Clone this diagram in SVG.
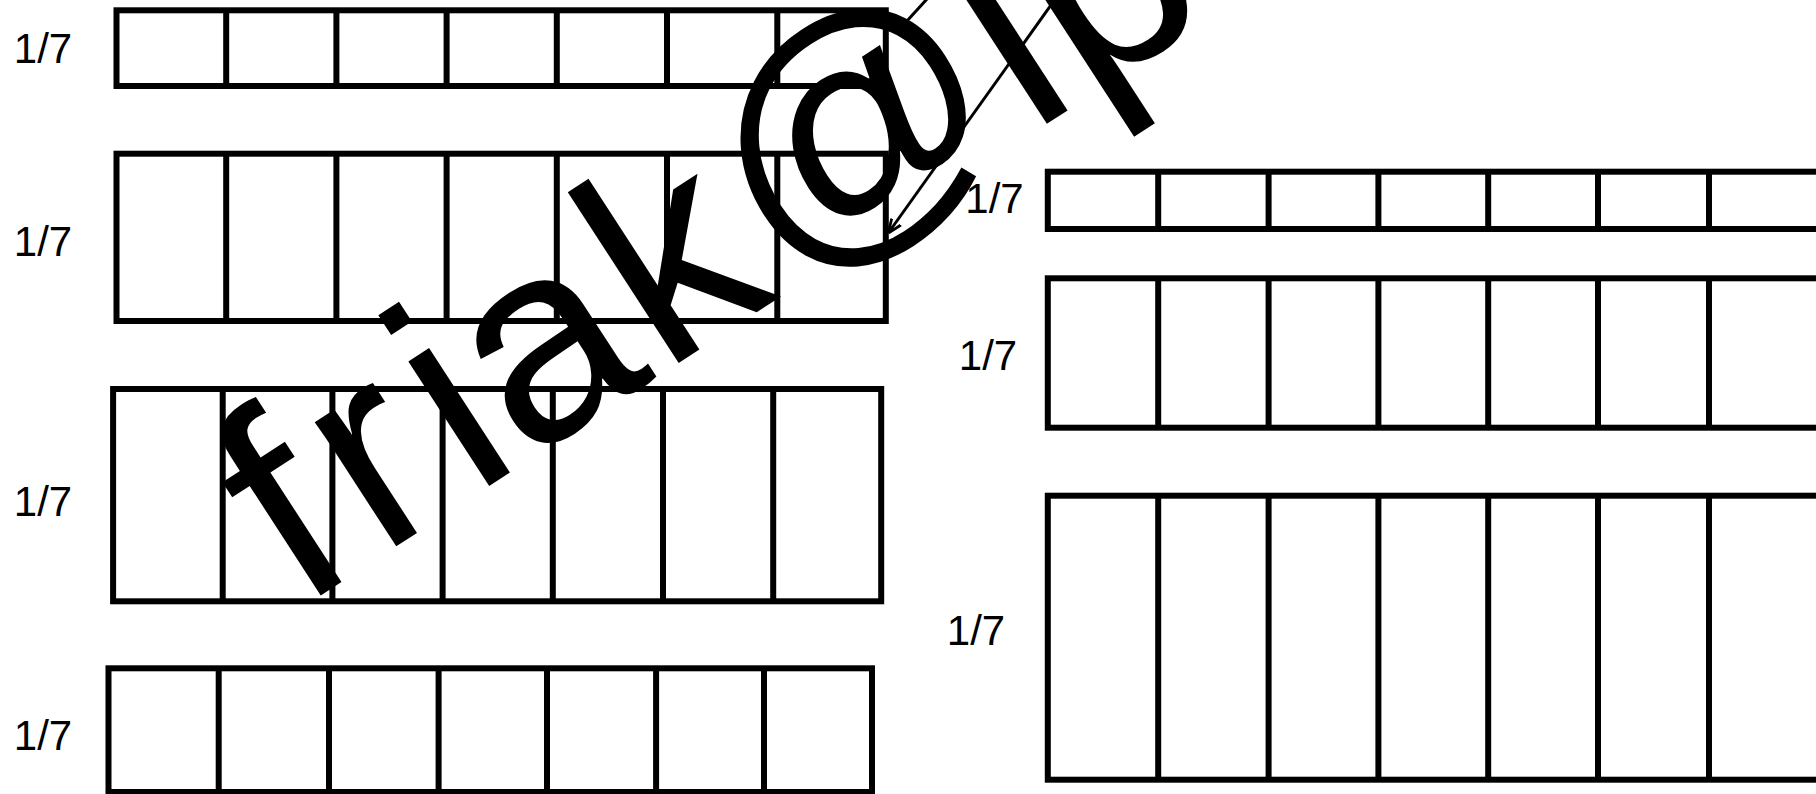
<svg xmlns="http://www.w3.org/2000/svg" width="1816" height="794" viewBox="0 0 1816 794">
<defs>
<style>
.box{fill:none;stroke:#000;stroke-width:6}
.div{fill:none;stroke:#000;stroke-width:6}
.lbl{font-family:'Liberation Sans',Arial,sans-serif;font-size:42px;text-anchor:middle;fill:#000}
.wm{font-family:'Liberation Sans',Arial,sans-serif;font-size:281px;fill:#000}
.thin{fill:none;stroke:#000;stroke-width:3}
</style>
<marker id="arr" viewBox="0 0 10 10" refX="9" refY="5" markerWidth="14" markerHeight="14" markerUnits="userSpaceOnUse" orient="auto">
<path d="M0,1 L10,5 L0,9" fill="none" stroke="#000" stroke-width="2"/>
</marker>
</defs>
<rect width="1816" height="794" fill="#fff"/>

<g id="row-left-1">
<rect class="box" x="116.5" y="10.3" width="769.3" height="75.7"/>
<path class="div" d="M226.2 10.3V86M336.4 10.3V86M446.6 10.3V86M556.8 10.3V86M667 10.3V86M777.3 10.3V86"/>
<text class="lbl" x="43" y="63">1/7</text>
</g>
<g id="row-left-2">
<rect class="box" x="116.5" y="153.7" width="769.3" height="167.3"/>
<path class="div" d="M226.2 153.7V321M336.4 153.7V321M446.6 153.7V321M556.8 153.7V321M667 153.7V321M777.3 153.7V321"/>
<text class="lbl" x="43" y="255.5">1/7</text>
</g>
<g id="row-left-3">
<rect class="box" x="113.1" y="389" width="768.1" height="212.3"/>
<path class="div" d="M222.7 389V601.3M332.4 389V601.3M442.6 389V601.3M552.8 389V601.3M663 389V601.3M773.2 389V601.3"/>
<text class="lbl" x="43" y="516">1/7</text>
</g>
<g id="row-left-4">
<rect class="box" x="108.5" y="668.3" width="763.5" height="123.7"/>
<path class="div" d="M218.7 668.3V792M329 668.3V792M438.6 668.3V792M547 668.3V792M656.1 668.3V792M764 668.3V792"/>
<text class="lbl" x="43" y="750">1/7</text>
</g>
<g id="row-right-1">
<rect class="box" x="1047.8" y="171.7" width="771.4" height="57.3"/>
<path class="div" d="M1158.2 171.7V229M1268.6 171.7V229M1378.4 171.7V229M1488.2 171.7V229M1598 171.7V229M1709 171.7V229"/>
<text class="lbl" x="994.5" y="213">1/7</text>
</g>
<g id="row-right-2">
<rect class="box" x="1047.8" y="278.3" width="771.4" height="149.4"/>
<path class="div" d="M1158.2 278.3V427.7M1268.6 278.3V427.7M1378.4 278.3V427.7M1488.2 278.3V427.7M1598 278.3V427.7M1709 278.3V427.7"/>
<text class="lbl" x="988" y="369.5">1/7</text>
</g>
<g id="row-right-3">
<rect class="box" x="1047.8" y="495.7" width="771.4" height="284"/>
<path class="div" d="M1158.2 495.7V779.7M1268.6 495.7V779.7M1378.4 495.7V779.7M1488.2 495.7V779.7M1598 495.7V779.7M1709 495.7V779.7"/>
<text class="lbl" x="976" y="645">1/7</text>
</g>

<g id="watermark" transform="translate(331.7 588.3) rotate(-33)">
<text class="wm" x="-37.9 57.5 169 231.4 394.8 543.7 833.8 900" y="0 0 0 0 0 -9 0 0">friak@lp</text>
</g>

<g id="connectors">
<path class="thin" d="M927 -1L896 33"/>
<path class="thin" d="M1056 -2L889 232" marker-end="url(#arr)"/>
</g>
</svg>
